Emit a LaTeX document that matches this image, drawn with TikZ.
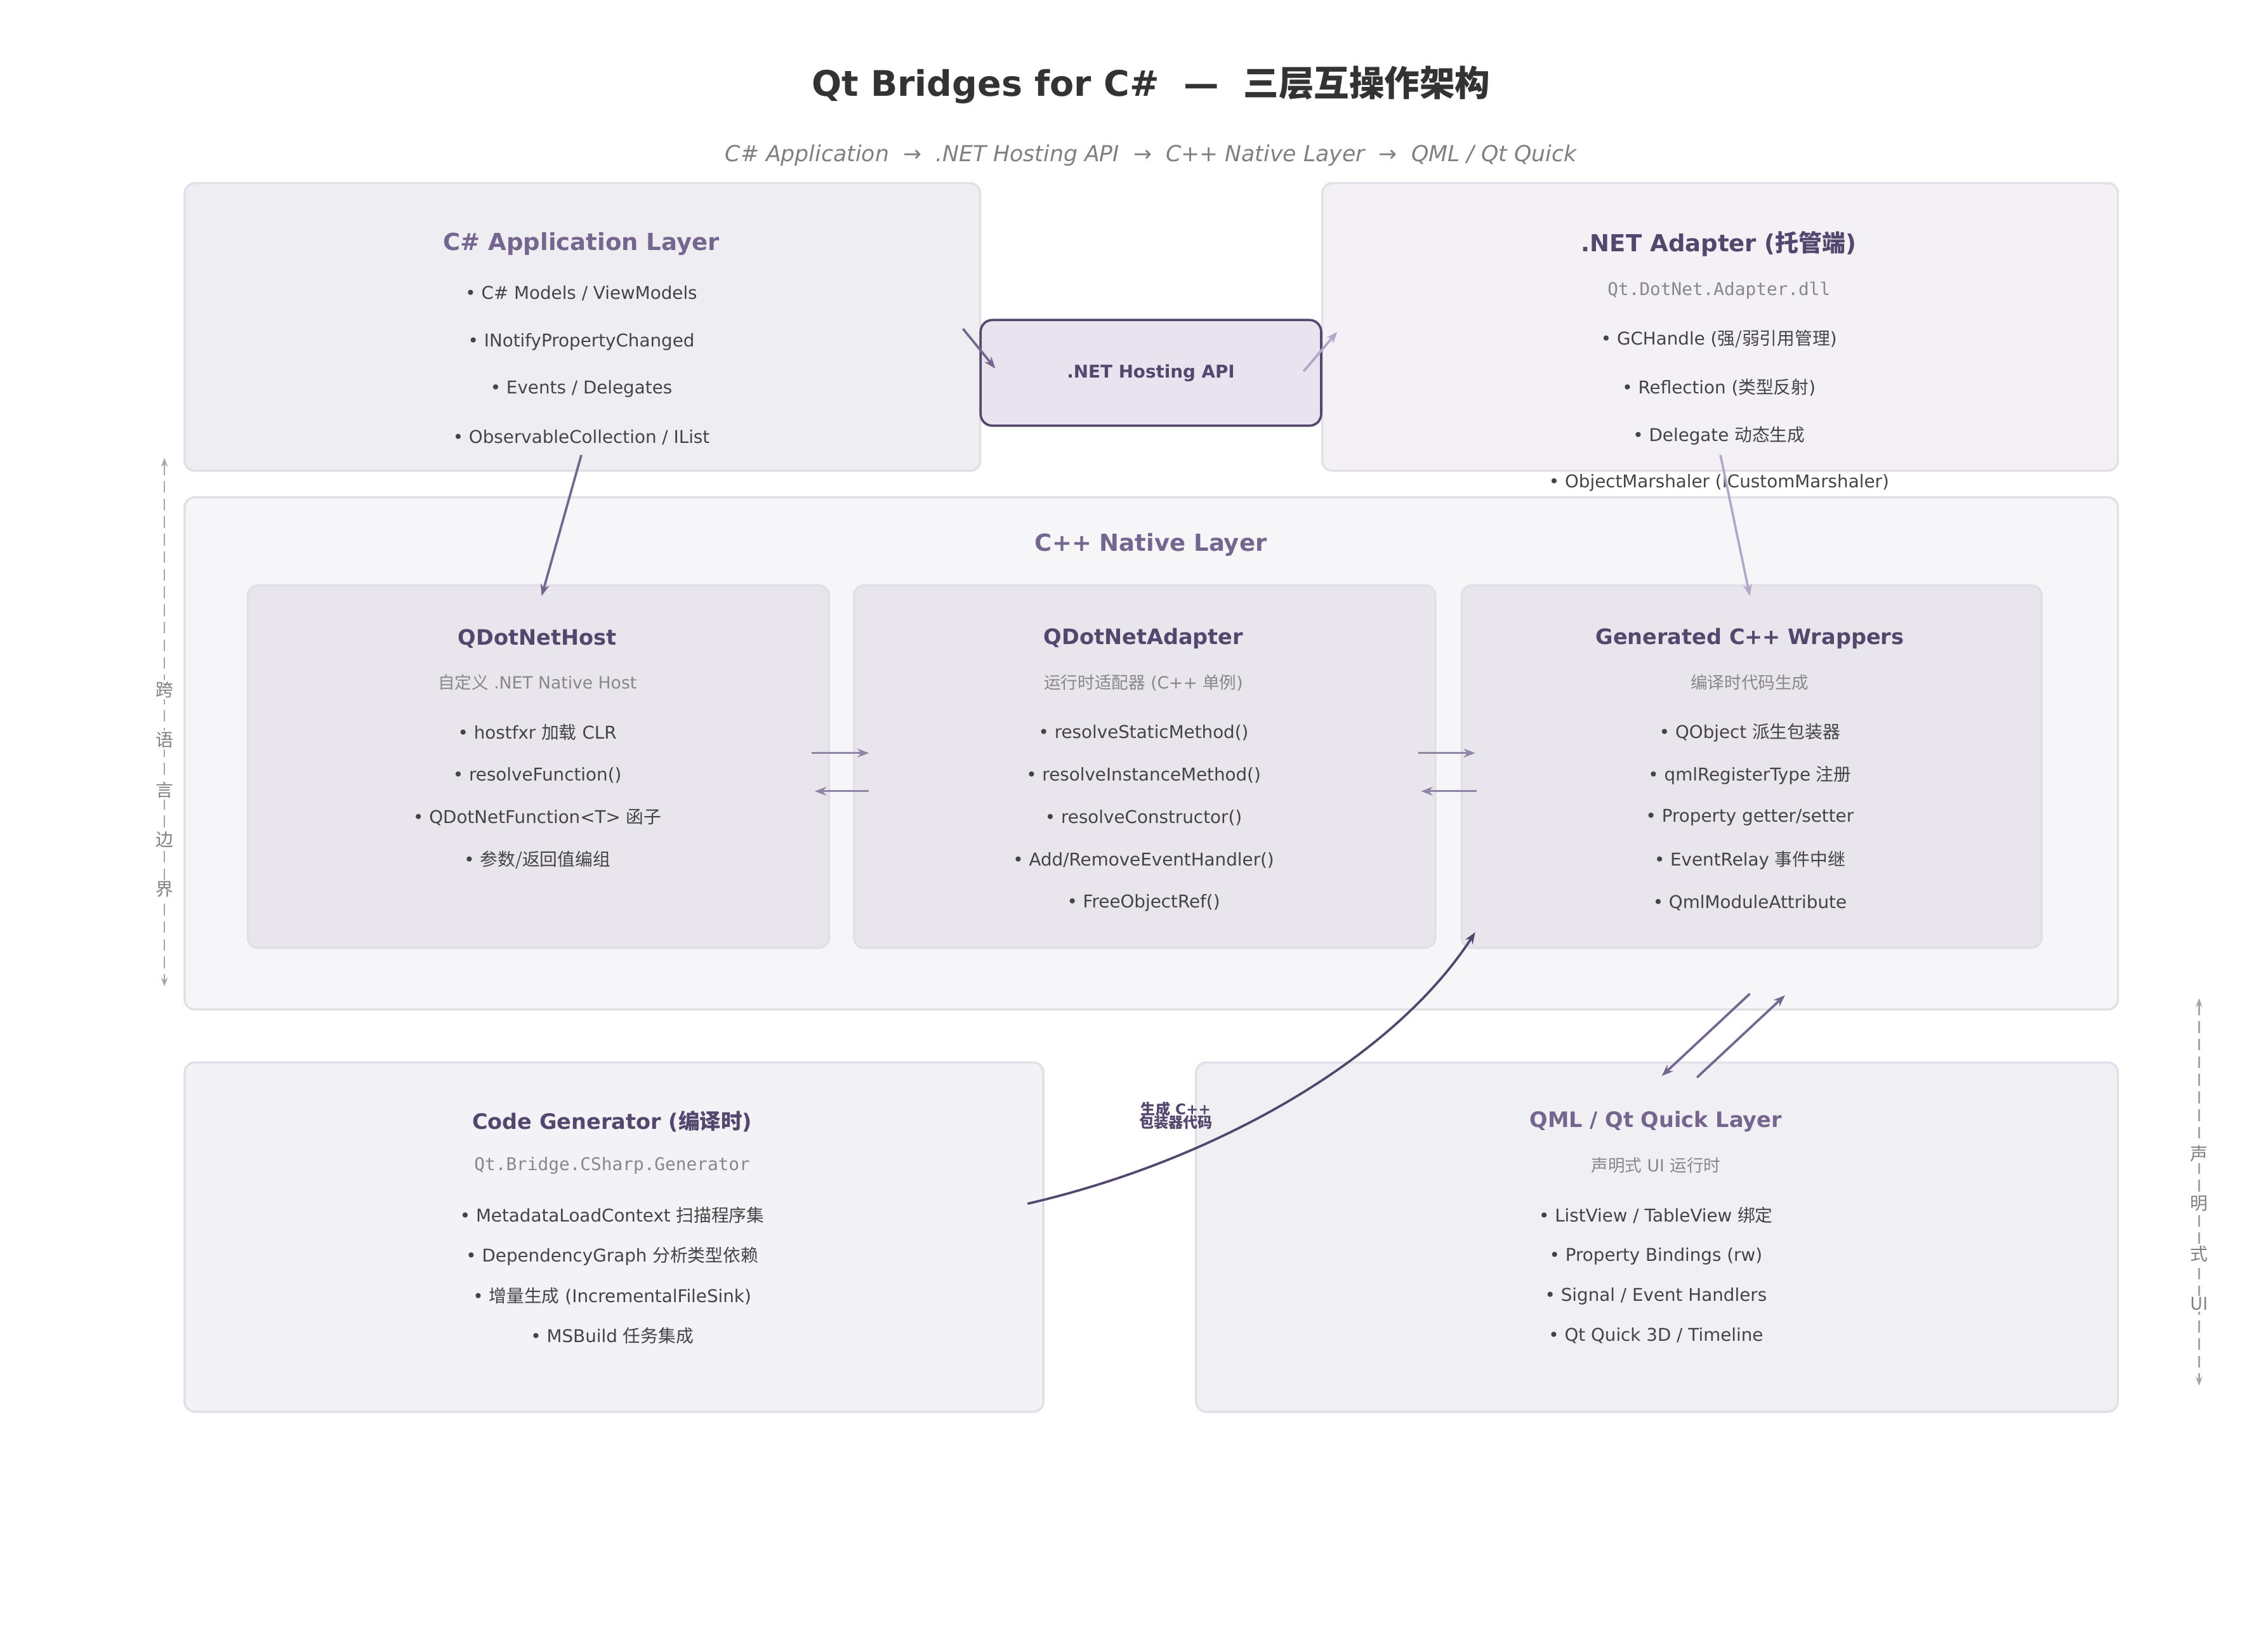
\documentclass[tikz,border=0pt]{standalone}
\usepackage{fontspec}
\setmainfont{DejaVu Sans}
\setmonofont{DejaVu Sans Mono}
\newfontfamily\cjk{Noto Sans CJK SC}
\newcommand{\zh}[1]{{\cjk #1}}
\usetikzlibrary{positioning,arrows.meta}
\definecolor{inkdark}{HTML}{333333}
\definecolor{purpledark}{HTML}{54476E}
\definecolor{purplemid}{HTML}{75668F}
\definecolor{purplelight}{HTML}{B3A7C9}
\definecolor{itemgray}{HTML}{444444}
\definecolor{subgray}{HTML}{888888}
\definecolor{edgegray}{HTML}{E2E0E7}
\definecolor{fillapp}{HTML}{EEEDF2}
\definecolor{filladp}{HTML}{F3F1F6}
\definecolor{fillnat}{HTML}{F6F5F8}
\definecolor{fillinner}{HTML}{E8E6EC}
\definecolor{fillgen}{HTML}{F3F2F6}
\definecolor{fillqml}{HTML}{F0EFF3}
\definecolor{fillhost}{HTML}{E9E3F0}
\tikzset{
  layer/.style = {draw=edgegray, line width=1.5pt, rounded corners=7pt, anchor=north west, inner sep=0pt},
  ttl/.style = {font=\bfseries\fontsize{16}{19}\selectfont, text=purpledark},
  sub/.style = {font=\fontsize{11.5}{14}\selectfont, text=subgray},
  mono/.style = {font=\ttfamily\fontsize{12}{14}\selectfont, text=subgray},
  item/.style = {font=\fontsize{12}{14}\selectfont, text=itemgray},
  flow/.style = {-{Stealth[length=8pt,width=6pt]}, line width=1.6pt, draw=purplemid},
  flowlight/.style = {flow, draw=purplelight},
  sideaxis/.style = {{Stealth[length=6pt]}-{Stealth[length=6pt]}, dash pattern=on 8pt off 4pt, line width=1.2pt, draw=gray!70},
  sidelbl/.style = {font=\cjk\fontsize{12}{14}\selectfont, text=gray, fill=white, inner sep=1pt}
}
\begin{document}
\begin{tikzpicture}[x=1pt, y=-1pt]
  \useasboundingbox (0,0) rectangle (1545,1113);
  % title
  \node (title) at (784,58) {\bfseries\fontsize{24}{28}\selectfont\color{inkdark}Qt Bridges for C\#\ \ —\ \ \zh{三层互操作架构}};
  \node (subtitle) at (784,106) {\itshape\fontsize{15}{18}\selectfont\color{gray}C\# Application\ \ →\ \ .NET Hosting API\ \ →\ \ C++ Native Layer\ \ →\ \ QML / Qt Quick};
  % layer boxes
  \node[layer, fill=fillapp, minimum width=542, minimum height=196] (app) at (125,124) {};
  \node[layer, fill=filladp, minimum width=542, minimum height=196] (adapter) at (900,124) {};
  \node[layer, fill=fillnat, minimum width=1317, minimum height=349] (native) at (125,338) {};
  \node[layer, fill=fillinner, minimum width=396, minimum height=247] (host) at (168,398) {};
  \node[layer, fill=fillinner, minimum width=396, minimum height=247] (netadp) at (581,398) {};
  \node[layer, fill=fillinner, minimum width=395, minimum height=247] (wrap) at (995,398) {};
  \node[layer, fill=fillgen, minimum width=585, minimum height=238] (codegen) at (125,723) {};
  \node[layer, fill=fillqml, minimum width=628, minimum height=238] (qml) at (814,723) {};
  \node[draw=purpledark, line width=1.6pt, fill=fillhost, rounded corners=8pt, minimum width=232, minimum height=72,
        font=\bfseries\fontsize{12}{14}\selectfont, text=purpledark] (hosting) at (784,254) {.NET Hosting API};
  % C# application layer
  \node[ttl, text=purplemid] (appT) at (396,166) {C\# Application Layer};
  \node[item] (app1) at (396,200) {• C\# Models / ViewModels};
  \node[item] (app2) at (396,233) {• INotifyPropertyChanged};
  \node[item] (app3) at (396,265) {• Events / Delegates};
  \node[item] (app4) at (396,298) {• ObservableCollection / IList};
  % .NET adapter
  \node[ttl] (adpT) at (1171,166) {.NET Adapter (\zh{托管端})};
  \node[mono] (adpM) at (1171,198) {Qt.DotNet.Adapter.dll};
  \node[item] (adp1) at (1171,231) {• GCHandle (\zh{强/弱引用管理})};
  \node[item] (adp2) at (1171,264) {• Reflection (\zh{类型反射})};
  \node[item] (adp3) at (1171,297) {• Delegate \zh{动态生成}};
  \node[item] (adp4) at (1171,329) {• ObjectMarshaler (ICustomMarshaler)};
  % C++ native layer
  \node[ttl, text=purplemid] (natT) at (784,371) {C++ Native Layer};
  \node[ttl, font=\bfseries\fontsize{14.5}{17}\selectfont] (hostT) at (366,435) {QDotNetHost};
  \node[sub] (hostS) at (366,465) {\zh{自定义} .NET Native Host};
  \node[item] (host1) at (366,499) {• hostfxr \zh{加载} CLR};
  \node[item] (host2) at (366,528) {• resolveFunction()};
  \node[item] (host3) at (366,557) {• QDotNetFunction<T> \zh{函子}};
  \node[item] (host4) at (366,586) {• \zh{参数/返回值编组}};
  \node[ttl, font=\bfseries\fontsize{14.5}{17}\selectfont] (nadT) at (779,435) {QDotNetAdapter};
  \node[sub] (nadS) at (779,465) {\zh{运行时适配器} (C++ \zh{单例})};
  \node[item] (nad1) at (779,499) {• resolveStaticMethod()};
  \node[item] (nad2) at (779,528) {• resolveInstanceMethod()};
  \node[item] (nad3) at (779,557) {• resolveConstructor()};
  \node[item] (nad4) at (779,586) {• Add/RemoveEventHandler()};
  \node[item] (nad5) at (779,615) {• FreeObjectRef()};
  \node[ttl, font=\bfseries\fontsize{14.5}{17}\selectfont] (wrapT) at (1192,435) {Generated C++ Wrappers};
  \node[sub] (wrapS) at (1192,465) {\zh{编译时代码生成}};
  \node[item] (wrap1) at (1192,499) {• QObject \zh{派生包装器}};
  \node[item] (wrap2) at (1192,528) {• qmlRegisterType \zh{注册}};
  \node[item] (wrap3) at (1192,557) {• Property getter/setter};
  \node[item] (wrap4) at (1192,586) {• EventRelay \zh{事件中继}};
  \node[item] (wrap5) at (1192,615) {• QmlModuleAttribute};
  % code generator
  \node[ttl, font=\bfseries\fontsize{14.5}{17}\selectfont] (genT) at (417,764) {Code Generator (\zh{编译时})};
  \node[mono] (genM) at (417,794) {Qt.Bridge.CSharp.Generator};
  \node[item] (gen1) at (417,828) {• MetadataLoadContext \zh{扫描程序集}};
  \node[item] (gen2) at (417,856) {• DependencyGraph \zh{分析类型依赖}};
  \node[item] (gen3) at (417,883) {• \zh{增量生成} (IncrementalFileSink)};
  \node[item] (gen4) at (417,910) {• MSBuild \zh{任务集成}};
  % QML layer
  \node[ttl, font=\bfseries\fontsize{14.5}{17}\selectfont, text=purplemid] (qmlT) at (1128,764) {QML / Qt Quick Layer};
  \node[sub] (qmlS) at (1128,794) {\zh{声明式} UI \zh{运行时}};
  \node[item] (qml1) at (1128,828) {• ListView / TableView \zh{绑定}};
  \node[item] (qml2) at (1128,856) {• Property Bindings (rw)};
  \node[item] (qml3) at (1128,883) {• Signal / Event Handlers};
  \node[item] (qml4) at (1128,910) {• Qt Quick 3D / Timeline};
  % connector end points
  \coordinate (appOut) at (656,224);  \coordinate (hostIn) at (678,251);
  \coordinate (hostOut) at (888,253); \coordinate (adpIn) at (911,226);
  \coordinate (appDown) at (396,310); \coordinate (hostTop) at (369,406);
  \coordinate (adpDown) at (1172,310); \coordinate (wrapTop) at (1192,406);
  \coordinate (hR1) at (553,513); \coordinate (hR2) at (592,513);
  \coordinate (hL1) at (592,539); \coordinate (hL2) at (555,539);
  \coordinate (wR1) at (966,513); \coordinate (wR2) at (1005,513);
  \coordinate (wL1) at (1006,539); \coordinate (wL2) at (968,539);
  \coordinate (genOut) at (700,820); \coordinate (wrapIn) at (1005,635);
  \coordinate (wrapDn) at (1192,677); \coordinate (qmlIn) at (1132,733);
  \coordinate (qmlUp) at (1156,734); \coordinate (wrapUp) at (1216,678);
  % connectors
  \draw[flow] (appOut) -- (hostIn);
  \draw[flowlight] (hostOut) -- (adpIn);
  \draw[flow] (appDown) -- (hostTop);
  \draw[flowlight] (adpDown) -- (wrapTop);
  \draw[flow, line width=1.3pt, draw=purplemid!80] (hR1) -- (hR2);
  \draw[flow, line width=1.3pt, draw=purplemid!80] (hL1) -- (hL2);
  \draw[flow, line width=1.3pt, draw=purplemid!80] (wR1) -- (wR2);
  \draw[flow, line width=1.3pt, draw=purplemid!80] (wL1) -- (wL2);
  \draw[flow, draw=purpledark] (genOut) .. controls (830,790) and (950,720) .. (wrapIn);
  \node[font=\bfseries\fontsize{10}{11}\selectfont, text=purpledark, align=center] (genLbl) at (801,760) {\zh{生成} C++\\[-2pt]\zh{包装器代码}};
  \draw[flow] (wrapDn) -- (qmlIn);
  \draw[flow] (qmlUp) -- (wrapUp);
  % side boundaries
  \coordinate (lTop) at (112,312); \coordinate (lBot) at (112,672);
  \coordinate (rTop) at (1498,680); \coordinate (rBot) at (1498,944);
  \draw[sideaxis] (lTop) -- (lBot);
  \draw[sideaxis] (rTop) -- (rBot);
  \foreach \ch [count=\i] in {跨,语,言,边,界}
    \node[sidelbl] (lside\i) at (112,436+34*\i) {\ch};
  \foreach \ch [count=\i] in {声,明,式,UI}
    \node[sidelbl] (rside\i) at (1498,752+34*\i) {\ch};
\end{tikzpicture}
\end{document}
